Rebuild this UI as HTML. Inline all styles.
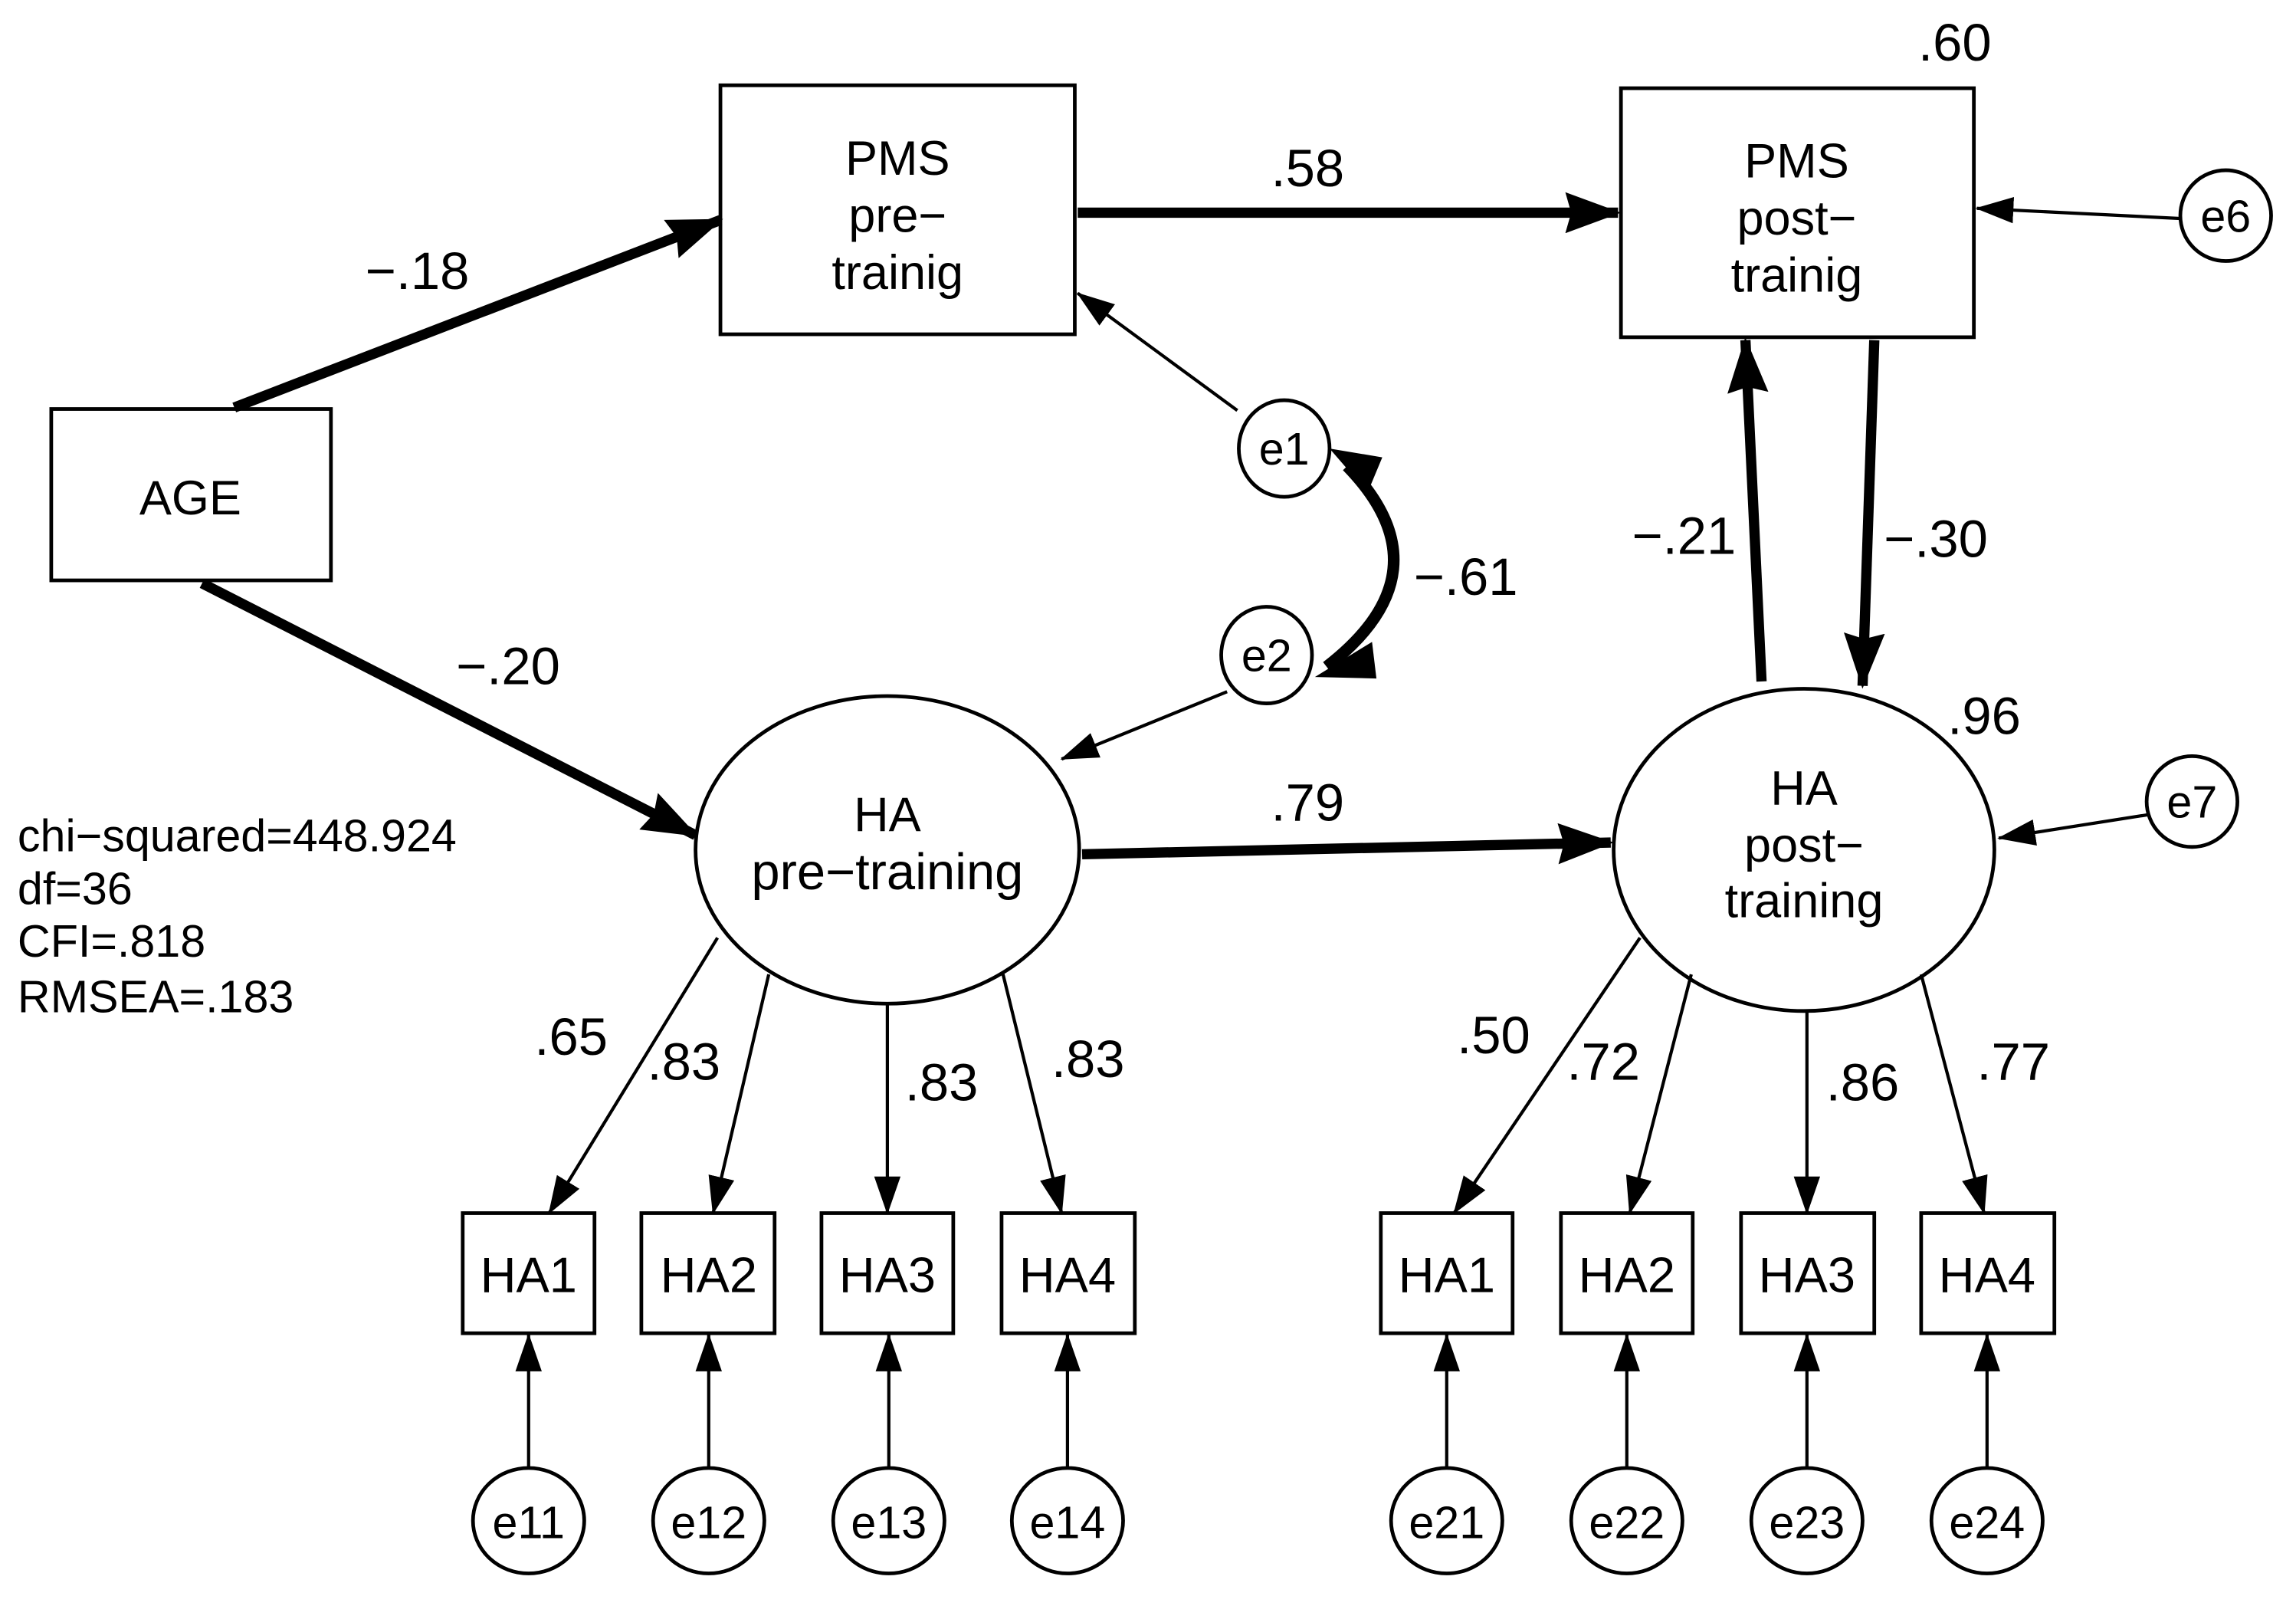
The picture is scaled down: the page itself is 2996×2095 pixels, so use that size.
<!DOCTYPE html>
<html><head><meta charset="utf-8"><style>
html,body{margin:0;padding:0;background:#fff}
svg{display:block}
text{font-family:"Liberation Sans","Noto Sans CJK JP",sans-serif;fill:#000}
</style></head><body>
<svg width="2996" height="2095" viewBox="0 0 1568 1096" xmlns="http://www.w3.org/2000/svg">
<defs>
<marker id="big" markerUnits="userSpaceOnUse" markerWidth="38" markerHeight="28" refX="36" refY="14" orient="auto"><path d="M0,0 L38,14 L0,28 L4,14 z" fill="#000"/></marker>
<marker id="sm" markerUnits="userSpaceOnUse" markerWidth="26" markerHeight="20" refX="25" refY="10" orient="auto"><path d="M0,1 L26,10 L0,19 z" fill="#000"/></marker>
</defs>
<rect width="1568" height="1096" fill="#fff"/>
<g fill="#fff" stroke="#000" stroke-width="2.5">
<rect x="35" y="279" width="191" height="117"/>
<rect x="492" y="58" width="242" height="170"/>
<rect x="1107" y="60" width="241" height="170"/>
<ellipse cx="606" cy="580" rx="131" ry="105"/>
<ellipse cx="1232" cy="580" rx="130" ry="110"/>
<ellipse cx="877" cy="306" rx="31" ry="33"/>
<ellipse cx="865" cy="447" rx="31" ry="33"/>
<ellipse cx="1520" cy="147" rx="31" ry="31"/>
<ellipse cx="1497" cy="547" rx="31" ry="31"/>
<rect x="316" y="828" width="90" height="82"/>
<rect x="438" y="828" width="91" height="82"/>
<rect x="561" y="828" width="90" height="82"/>
<rect x="684" y="828" width="91" height="82"/>
<rect x="943" y="828" width="90" height="82"/>
<rect x="1066" y="828" width="90" height="82"/>
<rect x="1189" y="828" width="91" height="82"/>
<rect x="1312" y="828" width="91" height="82"/>
<ellipse cx="361" cy="1038" rx="38" ry="36"/>
<ellipse cx="484" cy="1038" rx="38" ry="36"/>
<ellipse cx="607" cy="1038" rx="38" ry="36"/>
<ellipse cx="729" cy="1038" rx="38" ry="36"/>
<ellipse cx="988" cy="1038" rx="38" ry="36"/>
<ellipse cx="1111" cy="1038" rx="38" ry="36"/>
<ellipse cx="1234" cy="1038" rx="38" ry="36"/>
<ellipse cx="1357" cy="1038" rx="38" ry="36"/>
</g>
<g stroke="#000" fill="none">
<g stroke-width="7" marker-end="url(#big)">
<line x1="160" y1="278" x2="492" y2="150"/>
<line x1="138" y1="398" x2="475" y2="570"/>
<line x1="736" y1="145" x2="1105" y2="145"/>
<line x1="739" y1="583" x2="1100" y2="575"/>
<line x1="1203" y1="465" x2="1192" y2="232"/>
<line x1="1280" y1="232" x2="1272" y2="468"/>
</g>
<path d="M920,318 Q990,390 906,455" stroke-width="8"/>
<g stroke-width="2.2" marker-end="url(#sm)">
<line x1="845" y1="280" x2="736" y2="200"/>
<line x1="838" y1="472" x2="725" y2="518"/>
<line x1="1490" y1="149" x2="1350" y2="142"/>
<line x1="1467" y1="556" x2="1365" y2="572"/>
<line x1="490" y1="640" x2="375" y2="828"/>
<line x1="525" y1="665" x2="487" y2="828"/>
<line x1="606" y1="685" x2="606" y2="828"/>
<line x1="685" y1="665" x2="725" y2="828"/>
<line x1="1120" y1="640" x2="993" y2="828"/>
<line x1="1155" y1="665" x2="1113" y2="828"/>
<line x1="1234" y1="690" x2="1234" y2="828"/>
<line x1="1312" y1="665" x2="1355" y2="828"/>
<line x1="361" y1="1002" x2="361" y2="911"/>
<line x1="484" y1="1002" x2="484" y2="911"/>
<line x1="607" y1="1002" x2="607" y2="911"/>
<line x1="729" y1="1002" x2="729" y2="911"/>
<line x1="988" y1="1002" x2="988" y2="911"/>
<line x1="1111" y1="1002" x2="1111" y2="911"/>
<line x1="1234" y1="1002" x2="1234" y2="911"/>
<line x1="1357" y1="1002" x2="1357" y2="911"/>
</g>
</g>
<path d="M908,306 L944,312 L934,336 Z" fill="#000"/>
<path d="M898,462 L937,438 L940,463 Z" fill="#000"/>
<g font-size="33" text-anchor="middle">
<text x="130" y="351">AGE</text>
<text x="613" y="119">PMS</text><text x="613" y="158">pre−</text><text x="613" y="197">trainig</text>
<text x="1227" y="121">PMS</text><text x="1227" y="160">post−</text><text x="1227" y="199">trainig</text>
<text x="606" y="567">HA</text><text x="606" y="607" font-size="35">pre−training</text>
<text x="1232" y="549">HA</text><text x="1232" y="588">post−</text><text x="1232" y="626">training</text>
</g>
<g font-size="34" text-anchor="middle">
<text x="361" y="882">HA1</text><text x="484" y="882">HA2</text><text x="606" y="882">HA3</text><text x="729" y="882">HA4</text>
<text x="988" y="882">HA1</text><text x="1111" y="882">HA2</text><text x="1234" y="882">HA3</text><text x="1357" y="882">HA4</text>
</g>
<g font-size="31" text-anchor="middle">
<text x="877" y="317">e1</text><text x="865" y="458">e2</text>
<text x="1520" y="158">e6</text><text x="1497" y="558">e7</text>
<text x="361" y="1050">e11</text><text x="484" y="1050">e12</text><text x="607" y="1050">e13</text><text x="729" y="1050">e14</text>
<text x="988" y="1050">e21</text><text x="1111" y="1050">e22</text><text x="1234" y="1050">e23</text><text x="1357" y="1050">e24</text>
</g>
<g font-size="36" text-anchor="middle">
<text x="285" y="197">−.18</text>
<text x="347" y="467">−.20</text>
<text x="893" y="127">.58</text>
<text x="893" y="560">.79</text>
<text x="1001" y="406">−.61</text>
<text x="1150" y="378">−.21</text>
<text x="1322" y="380">−.30</text>
<text x="1335" y="41">.60</text>
<text x="1355" y="501">.96</text>
<text x="390" y="720">.65</text>
<text x="467" y="737">.83</text>
<text x="643" y="751">.83</text>
<text x="743" y="735">.83</text>
<text x="1020" y="719">.50</text>
<text x="1095" y="737">.72</text>
<text x="1272" y="751">.86</text>
<text x="1375" y="737">.77</text>
</g>
<g font-size="31">
<text x="12" y="581">chi−squared=448.924</text>
<text x="12" y="617">df=36</text>
<text x="12" y="653">CFI=.818</text>
<text x="12" y="691">RMSEA=.183</text>
</g>
</svg>
</body></html>
